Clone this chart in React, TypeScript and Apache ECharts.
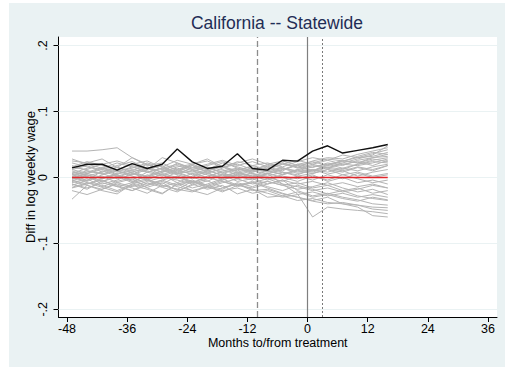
import React, { useEffect, useRef } from 'react';
import * as echarts from 'echarts';

const months = [-47, -44, -41, -38, -35, -32, -29, -26, -23, -20, -17, -14, -11, -8, -5, -2, 1, 4, 7, 10, 13, 16];

const california = [0.0145, 0.020, 0.020, 0.011, 0.021, 0.0136, 0.020, 0.043, 0.0236, 0.0136, 0.017, 0.036, 0.0136, 0.011, 0.026, 0.0247, 0.040, 0.048, 0.037, 0.041, 0.045, 0.050];

const placebos: number[][] = [
  [0.040, 0.040, 0.042, 0.045, 0.030, 0.020, 0.012, 0.018, 0.010, 0.015, 0.008, 0.012, 0.010, 0.005, 0.012, 0.018, 0.010, 0.020, 0.025, 0.022, 0.030, 0.035],
  [-0.033, -0.012, -0.020, -0.025, -0.010, -0.015, -0.008, -0.020, -0.012, -0.005, -0.015, -0.010, -0.020, -0.018, -0.025, -0.030, -0.035, -0.030, -0.040, -0.045, -0.058, -0.060],
  [0.025, 0.022, 0.028, 0.015, 0.030, 0.018, 0.022, 0.010, 0.020, 0.025, 0.015, 0.020, 0.012, 0.018, 0.022, 0.015, 0.025, 0.030, 0.028, 0.035, 0.040, 0.045],
  [0.005, -0.005, 0.010, 0.002, -0.008, 0.004, -0.002, 0.008, 0.000, -0.006, 0.005, 0.002, -0.004, 0.006, -0.010, -0.025, -0.060, -0.045, -0.048, -0.050, -0.052, -0.055],
  [-0.010, -0.018, -0.005, -0.012, -0.020, -0.008, -0.015, -0.022, -0.010, -0.018, -0.012, -0.025, -0.018, -0.030, -0.028, -0.035, -0.032, -0.038, -0.040, -0.042, -0.048, -0.050],
  [0.012, 0.018, 0.008, 0.015, 0.010, 0.020, 0.012, 0.005, 0.015, 0.010, 0.018, 0.008, 0.014, 0.010, 0.005, 0.012, 0.008, 0.015, 0.020, 0.018, 0.022, 0.028],
  [-0.005, 0.002, -0.010, -0.004, 0.006, -0.002, 0.004, -0.008, 0.002, 0.008, -0.004, 0.003, 0.006, -0.002, 0.004, 0.010, 0.006, 0.012, 0.008, 0.015, 0.010, 0.018],
  [0.002, 0.008, 0.015, 0.005, 0.010, 0.000, 0.008, 0.012, 0.004, 0.010, 0.016, 0.006, 0.002, 0.010, 0.015, 0.008, 0.012, 0.005, 0.010, 0.002, 0.008, 0.012],
  [-0.015, -0.008, -0.012, -0.020, -0.010, -0.004, -0.014, -0.008, -0.016, -0.010, -0.002, -0.012, -0.006, -0.014, -0.020, -0.012, -0.018, -0.025, -0.020, -0.028, -0.032, -0.035],
  [0.018, 0.010, 0.005, 0.012, 0.020, 0.025, 0.015, 0.008, 0.018, 0.012, 0.022, 0.016, 0.010, 0.020, 0.025, 0.018, 0.022, 0.028, 0.025, 0.030, 0.032, 0.038],
  [0.000, -0.006, 0.004, 0.010, 0.002, -0.004, 0.006, 0.000, -0.008, 0.002, 0.008, -0.002, 0.004, 0.000, -0.006, 0.002, -0.004, 0.004, -0.002, 0.006, 0.000, 0.004],
  [0.008, 0.004, -0.002, 0.006, 0.012, 0.008, 0.002, 0.010, 0.006, 0.000, 0.010, 0.014, 0.006, 0.002, 0.008, 0.004, 0.012, 0.008, 0.014, 0.010, 0.016, 0.020],
  [-0.020, -0.026, -0.018, -0.010, -0.016, -0.024, -0.012, -0.018, -0.022, -0.014, -0.020, -0.016, -0.024, -0.020, -0.028, -0.022, -0.030, -0.026, -0.032, -0.036, -0.030, -0.034],
  [0.015, 0.012, 0.020, 0.025, 0.018, 0.012, 0.030, 0.022, 0.014, 0.020, 0.026, 0.018, 0.024, 0.016, 0.010, 0.020, 0.015, 0.022, 0.018, 0.026, 0.030, 0.032],
  [-0.008, -0.002, -0.014, -0.006, 0.000, -0.010, -0.004, -0.012, -0.006, -0.016, -0.008, -0.002, -0.010, -0.006, -0.012, -0.008, -0.016, -0.012, -0.020, -0.016, -0.024, -0.020],
  [0.004, 0.010, 0.006, -0.002, 0.004, 0.012, 0.018, 0.006, 0.010, 0.004, -0.002, 0.006, 0.012, 0.008, 0.014, 0.006, 0.010, 0.016, 0.012, 0.020, 0.024, 0.022],
  [-0.012, -0.004, 0.002, -0.008, -0.014, -0.006, 0.000, -0.004, -0.010, -0.002, 0.004, -0.006, -0.002, -0.010, -0.004, -0.020, -0.028, -0.024, -0.030, -0.034, -0.040, -0.042],
  [0.022, 0.016, 0.012, 0.018, 0.024, 0.014, 0.008, 0.016, 0.020, 0.028, 0.016, 0.010, 0.018, 0.022, 0.016, 0.024, 0.030, 0.026, 0.034, 0.030, 0.036, 0.042],
  [-0.002, 0.006, 0.000, 0.004, -0.006, 0.002, 0.010, 0.004, -0.002, 0.006, 0.000, 0.008, 0.002, -0.004, 0.002, -0.002, 0.004, -0.006, 0.000, -0.008, -0.004, -0.010],
  [0.010, 0.002, 0.008, 0.016, 0.006, 0.002, 0.010, 0.014, 0.008, 0.016, 0.006, 0.012, 0.016, 0.010, 0.004, 0.012, 0.018, 0.014, 0.010, 0.016, 0.012, 0.018],
  [-0.006, -0.012, -0.018, -0.008, -0.002, -0.016, -0.024, -0.010, -0.004, -0.012, -0.018, -0.008, -0.014, -0.006, -0.012, -0.018, -0.014, -0.008, -0.016, -0.022, -0.018, -0.026],
  [0.002, -0.008, -0.015, -0.022, -0.012, -0.018, -0.025, -0.010, -0.020, -0.014, -0.006, -0.012, -0.016, -0.010, -0.004, -0.010, -0.006, -0.012, -0.008, -0.014, -0.010, -0.016],
  [0.006, 0.014, 0.020, 0.010, 0.004, 0.016, 0.008, 0.022, 0.012, 0.006, 0.014, 0.024, 0.018, 0.012, 0.020, 0.026, 0.020, 0.014, 0.022, 0.028, 0.034, 0.048],
  [-0.016, -0.010, -0.004, -0.014, -0.008, -0.002, -0.012, -0.018, -0.006, -0.014, -0.022, -0.012, -0.008, -0.016, -0.024, -0.030, -0.036, -0.040, -0.038, -0.042, -0.045, -0.046],
  [0.012, 0.006, 0.014, 0.008, 0.016, 0.010, 0.004, 0.012, 0.018, 0.008, 0.012, 0.004, 0.010, 0.016, 0.022, 0.014, 0.020, 0.026, 0.020, 0.024, 0.018, 0.026],
  [-0.003, 0.004, -0.006, 0.000, 0.008, -0.004, -0.010, 0.002, -0.006, -0.012, -0.004, 0.004, -0.002, 0.006, 0.000, -0.006, 0.002, -0.004, 0.004, -0.002, -0.008, -0.004],
  [0.016, 0.024, 0.018, 0.010, 0.014, 0.022, 0.016, 0.026, 0.020, 0.012, 0.018, 0.022, 0.028, 0.020, 0.014, 0.010, 0.016, 0.020, 0.014, 0.020, 0.026, 0.030],
  [-0.010, -0.016, -0.008, -0.014, -0.020, -0.012, -0.006, -0.014, -0.020, -0.026, -0.016, -0.010, -0.018, -0.024, -0.030, -0.026, -0.022, -0.028, -0.024, -0.030, -0.026, -0.030],
  [0.000, 0.006, 0.012, 0.004, -0.004, 0.008, 0.014, 0.006, 0.000, 0.010, 0.004, -0.002, 0.008, 0.014, 0.008, 0.002, 0.006, 0.012, 0.004, 0.008, 0.002, 0.006],
  [0.028, 0.020, 0.014, 0.022, 0.016, 0.008, 0.014, 0.020, 0.012, 0.018, 0.024, 0.014, 0.008, 0.014, 0.020, 0.016, 0.010, 0.018, 0.024, 0.032, 0.038, 0.035],
  [-0.004, -0.010, -0.002, 0.004, -0.006, -0.012, -0.004, 0.002, -0.008, 0.000, -0.006, -0.014, -0.008, -0.002, -0.010, -0.014, -0.020, -0.016, -0.022, -0.018, -0.012, -0.016],
  [0.006, 0.000, -0.006, 0.002, 0.008, 0.014, 0.004, -0.002, 0.006, 0.012, 0.002, 0.008, 0.000, 0.006, 0.012, 0.020, 0.024, 0.018, 0.026, 0.022, 0.028, 0.024],
];

const xTicks = [-48, -36, -24, -12, 0, 12, 24, 36];
const yTicks = [-0.2, -0.1, 0, 0.1, 0.2];
const yTickLabels = ['-.2', '-.1', '0', '.1', '.2'];
const referenceMonths = { dashed: -10, solid: 0, dotted: 3 };
const zeroLevel = 0;

const FONT = "'Liberation Sans', Arial, sans-serif";

export default function App() {
  const ref = useRef<HTMLDivElement>(null);

  useEffect(() => {
    document.body.style.margin = '0';
    const chart = echarts.init(ref.current!, null, { renderer: 'svg' });

    const series: any[] = [];
    series.push({
      type: 'line',
      data: [],
      z: 1,
      silent: true,
      markLine: {
        z: 1,
        silent: true,
        symbol: 'none',
        label: { show: false },
        lineStyle: { color: '#EAF2F3', width: 1, type: 'solid' },
        data: yTicks.map((v) => ({ yAxis: v })),
      },
    });
    placebos.forEach((vals) => {
      series.push({
        type: 'line',
        data: months.map((m, j) => [m, vals[j]]),
        showSymbol: false,
        symbol: 'none',
        silent: true,
        z: 2,
        lineStyle: { color: '#b4b4b4', width: 1 },
      });
    });
    series.push({
      type: 'line',
      data: [],
      z: 3,
      silent: true,
      markLine: {
        z: 3,
        silent: true,
        symbol: 'none',
        label: { show: false },
        data: [
          { xAxis: referenceMonths.dashed, lineStyle: { color: '#8c8c8c', width: 1.3, type: [6, 3] } },
          { xAxis: referenceMonths.solid, lineStyle: { color: '#7f7f7f', width: 1.2, type: 'solid' } },
          { xAxis: referenceMonths.dotted, lineStyle: { color: '#7a7a7a', width: 1, type: [2, 2] } },
        ],
      },
    });
    series.push({
      type: 'line',
      data: [[months[0], zeroLevel], [months[months.length - 1], zeroLevel]],
      showSymbol: false,
      symbol: 'none',
      silent: true,
      z: 4,
      lineStyle: { color: '#e0262b', width: 1.5, opacity: 1 },
    });
    series.push({
      type: 'line',
      data: months.map((m, j) => [m, california[j]]),
      showSymbol: false,
      symbol: 'none',
      silent: true,
      z: 5,
      lineStyle: { color: '#111111', width: 1.4 },
    });

    chart.setOption({
      animation: false,
      backgroundColor: 'transparent',
      graphic: [
        {
          type: 'rect',
          z: -10,
          silent: true,
          shape: { x: 9, y: 3, width: 496, height: 364 },
          style: { fill: '#EAF2F3' },
        },
      ],
      title: {
        text: 'California -- Statewide',
        left: 277,
        top: 14,
        padding: 0,
        textAlign: 'center',
        textStyle: { fontFamily: FONT, fontSize: 17.5, fontWeight: 'normal', color: '#1f2d55' },
      },
      grid: {
        left: 58.5,
        top: 37,
        width: 438.5,
        height: 280,
        show: true,
        backgroundColor: '#ffffff',
        borderWidth: 0,
      },
      xAxis: {
        type: 'value',
        min: -49.7,
        max: 37.8,
        name: 'Months to/from treatment',
        nameLocation: 'middle',
        nameGap: 20,
        nameMoveOverlap: false,
        nameTextStyle: { fontFamily: FONT, fontSize: 12.5, lineHeight: 12, color: '#000' },
        axisLine: { show: true, onZero: false, lineStyle: { color: '#000', width: 1 } },
        axisTick: { show: true, length: 5, lineStyle: { color: '#000' }, customValues: xTicks },
        axisLabel: { fontFamily: FONT, fontSize: 12.5, lineHeight: 12, color: '#000', margin: 6, customValues: xTicks },
        splitLine: { show: false },
      },
      yAxis: {
        type: 'value',
        min: -0.2117,
        max: 0.213,
        name: 'Diff in log weekly wage',
        nameLocation: 'middle',
        nameGap: 22,
        nameMoveOverlap: false,
        nameTextStyle: { fontFamily: FONT, fontSize: 13, color: '#000' },
        axisLine: { show: true, onZero: false, lineStyle: { color: '#000', width: 1 } },
        axisTick: { show: true, length: 5, lineStyle: { color: '#000' }, customValues: yTicks },
        axisLabel: {
          fontFamily: FONT,
          fontSize: 12.5,
          color: '#000',
          rotate: 90,
          margin: 9,
          customValues: yTicks,
          formatter: (v: number) => {
            let best = 0;
            yTicks.forEach((t, i) => {
              if (Math.abs(t - v) < Math.abs(yTicks[best] - v)) best = i;
            });
            return yTickLabels[best];
          },
        },
        splitLine: { show: false },
      },
      series,
    });

    return () => chart.dispose();
  }, []);

  return <div ref={ref} style={{ width: 505, height: 367 }} />;
}
